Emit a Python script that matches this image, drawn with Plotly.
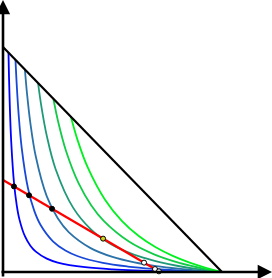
import plotly.graph_objects as go

# ---- data (x: 0..1 budget intercept, y: 0..1 budget intercept) ----
budget_x = [0.0, 1.0]
budget_y = [1.0, 0.0]

red_x = [0.0, 0.717]
red_y = [0.409, 0.0]

curve_colors = ["#0000ff", "#1848d8", "#2a72a8", "#1f9a78", "#12cc48", "#00f020"]

c1_x = [0.025, 0.0275, 0.03125, 0.0375, 0.05, 0.0625, 0.075, 0.1, 0.125, 0.15, 0.2, 0.25, 0.375, 0.5, 0.75, 1.0]
c1_y = [0.975, 0.863, 0.733, 0.580, 0.399, 0.298, 0.234, 0.159, 0.117, 0.0905, 0.0594, 0.0422, 0.0212, 0.0118, 0.0036, 0.0]

c2_x = [0.057, 0.0627, 0.07125, 0.0855, 0.114, 0.1425, 0.171, 0.228, 0.285, 0.342, 0.456, 0.57, 0.684, 0.855, 1.0]
c2_y = [0.943, 0.832, 0.703, 0.551, 0.3725, 0.2728, 0.210, 0.1365, 0.0956, 0.0701, 0.0404, 0.0242, 0.01416, 0.0049, 0.0]

c3_x = [0.1, 0.11, 0.125, 0.15, 0.2, 0.25, 0.3, 0.4, 0.5, 0.6, 0.7, 0.8, 0.9, 1.0]
c3_y = [0.9, 0.790, 0.662, 0.512, 0.336, 0.2386, 0.1773, 0.1061, 0.0669, 0.0426, 0.0263, 0.0149, 0.0064, 0.0]

c4_x = [0.16, 0.176, 0.2, 0.24, 0.32, 0.4, 0.48, 0.56, 0.64, 0.72, 0.8, 0.88, 1.0]
c4_y = [0.84, 0.7315, 0.605, 0.458, 0.286, 0.1909, 0.1317, 0.0919, 0.0636, 0.0427, 0.0267, 0.01425, 0.0]

c5_x = [0.23, 0.253, 0.2875, 0.345, 0.4025, 0.46, 0.575, 0.69, 0.805, 0.92, 1.0]
c5_y = [0.77, 0.663, 0.539, 0.3946, 0.2968, 0.227, 0.1352, 0.0785, 0.0407, 0.0141, 0.0]

c6_x = [0.31, 0.341, 0.3875, 0.465, 0.5425, 0.62, 0.6975, 0.775, 0.8525, 0.93, 1.0]
c6_y = [0.69, 0.585, 0.4634, 0.3223, 0.2273, 0.1598, 0.1098, 0.0716, 0.0417, 0.0177, 0.0]

curves_x = [c1_x, c2_x, c3_x, c4_x, c5_x, c6_x]
curves_y = [c1_y, c2_y, c3_y, c4_y, c5_y, c6_y]

left_dots_x = [0.050, 0.119, 0.224]
left_dots_y = [0.3805, 0.341, 0.281]
tangent_x = [0.457]
tangent_y = [0.1483]
right_dots_x = [0.644, 0.694, 0.712]
right_dots_y = [0.0416, 0.0131, 0.0029]

fig = go.Figure()

for cx, cy, col in zip(curves_x, curves_y, curve_colors):
    fig.add_trace(go.Scatter(x=cx, y=cy, mode="lines",
                             line=dict(color=col, width=1.8, shape="spline", smoothing=1.0),
                             hoverinfo="skip"))

fig.add_trace(go.Scatter(x=budget_x, y=budget_y, mode="lines",
                         line=dict(color="black", width=2.2), hoverinfo="skip"))
fig.add_trace(go.Scatter(x=red_x, y=red_y, mode="lines",
                         line=dict(color="red", width=2.2), hoverinfo="skip"))

fig.add_trace(go.Scatter(x=left_dots_x, y=left_dots_y, mode="markers",
                         marker=dict(color="black", size=5, line=dict(color="black", width=1))))
fig.add_trace(go.Scatter(x=tangent_x, y=tangent_y, mode="markers",
                         marker=dict(color="#d0d020", size=5, line=dict(color="black", width=1))))
fig.add_trace(go.Scatter(x=right_dots_x, y=right_dots_y, mode="markers",
                         marker=dict(color="white", size=5, line=dict(color="black", width=1))))

# axes with arrows
xmin, xmax = -3 / 219, 269 / 219
ymin, ymax = -6 / 225, 272 / 225
fig.add_annotation(x=0, y=ymax, ax=0, ay=ymin, xref="x", yref="y", axref="x", ayref="y",
                   text="", showarrow=True, arrowhead=2, arrowsize=1.1, arrowwidth=2.6,
                   arrowcolor="black")
fig.add_annotation(x=xmax, y=0, ax=xmin, ay=0, xref="x", yref="y", axref="x", ayref="y",
                   text="", showarrow=True, arrowhead=2, arrowsize=1.1, arrowwidth=2.6,
                   arrowcolor="black")

fig.update_layout(
    width=272, height=278,
    margin=dict(l=0, r=0, t=0, b=0),
    paper_bgcolor="white", plot_bgcolor="white",
    showlegend=False,
    xaxis=dict(range=[xmin, xmax], visible=False, fixedrange=True),
    yaxis=dict(range=[ymin, ymax], visible=False, fixedrange=True),
)

fig.write_html("out.html", post_script="document.body.style.margin='0';",
               config={"displayModeBar": False})
